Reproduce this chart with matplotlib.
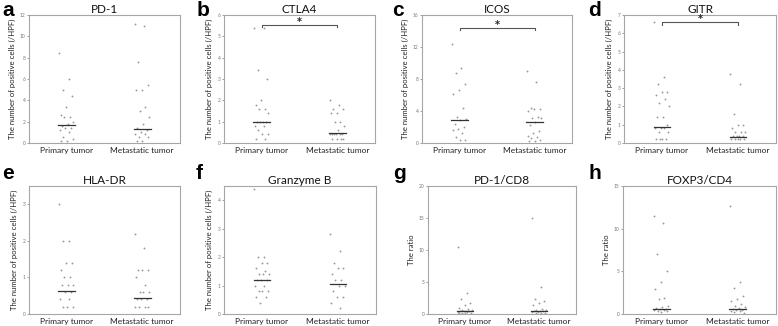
import numpy as np
import matplotlib
matplotlib.use('Agg')
import matplotlib.pyplot as plt

plt.rcParams['font.family'] = ['Lato', 'DejaVu Sans']

GROUPS = ['Primary tumor', 'Metastatic tumor']
TITLES = ['PD-1', 'CTLA4', 'ICOS', 'GITR', 'HLA-DR', 'Granzyme B', 'PD-1/CD8', 'FOXP3/CD4']
LETTERS = ['a', 'b', 'c', 'd', 'e', 'f', 'g', 'h']
YLABEL_CELLS = 'The number of positive cells (/HPF)'
YLABEL_RATIO = 'The ratio'

pd1_prim = [8.4, 6.0, 5.0, 4.4, 3.4, 2.6, 2.4, 2.4, 2.0, 1.8, 1.6, 1.4, 1.4, 1.2, 1.0, 0.6, 0.4, 0.2, 0.2]
pd1_met = [11.2, 11.0, 7.6, 5.4, 5.0, 5.0, 3.4, 3.0, 2.4, 1.8, 1.4, 1.2, 1.0, 0.8, 0.8, 0.6, 0.6, 0.2, 0.2]
ctla4_prim = [5.4, 5.4, 3.4, 3.0, 2.0, 1.8, 1.6, 1.6, 1.4, 1.0, 1.0, 1.0, 1.0, 0.8, 0.8, 0.6, 0.4, 0.4, 0.2, 0.2]
ctla4_met = [2.0, 1.8, 1.6, 1.6, 1.4, 1.4, 1.0, 1.0, 0.8, 0.6, 0.4, 0.4, 0.4, 0.4, 0.4, 0.4, 0.2, 0.2, 0.2, 0.2]
icos_prim = [12.4, 9.4, 8.8, 7.4, 6.6, 6.1, 4.4, 3.2, 3.0, 2.9, 2.4, 2.0, 1.8, 1.6, 1.2, 0.8, 0.4, 0.4]
icos_met = [9.0, 7.6, 4.4, 4.2, 4.2, 4.0, 3.3, 3.1, 3.1, 2.6, 2.2, 1.5, 1.2, 0.9, 0.8, 0.6, 0.4, 0.2, 0.2]
gitr_prim = [6.6, 3.6, 3.2, 2.8, 2.8, 2.6, 2.4, 2.2, 2.0, 1.4, 1.4, 1.0, 0.8, 0.8, 0.8, 0.6, 0.6, 0.2, 0.2, 0.2, 0.2]
gitr_met = [3.8, 3.2, 1.6, 1.0, 1.0, 0.8, 0.6, 0.6, 0.6, 0.4, 0.4, 0.4, 0.4, 0.2, 0.2, 0.2, 0.2, 0.2]
hla_prim = [3.0, 2.0, 2.0, 1.4, 1.4, 1.2, 1.0, 1.0, 0.8, 0.8, 0.8, 0.6, 0.6, 0.4, 0.4, 0.2, 0.2, 0.2]
hla_met = [2.2, 1.8, 1.2, 1.2, 1.2, 1.0, 0.8, 0.6, 0.6, 0.6, 0.4, 0.4, 0.4, 0.2, 0.2, 0.2, 0.2]
gzmb_prim = [4.4, 2.0, 2.0, 1.8, 1.8, 1.6, 1.5, 1.4, 1.4, 1.4, 1.2, 1.2, 1.2, 1.0, 1.0, 0.8, 0.8, 0.8, 0.6, 0.6, 0.4]
gzmb_met = [2.8, 2.2, 1.8, 1.6, 1.6, 1.4, 1.2, 1.2, 1.0, 1.0, 0.8, 0.6, 0.6, 0.4, 0.2]
pd1cd8_prim = [10.5, 3.3, 2.4, 1.7, 1.4, 1.0, 0.8, 0.6, 0.6, 0.5, 0.5, 0.4, 0.4, 0.3, 0.3, 0.2, 0.2, 0.1, 0.1]
pd1cd8_met = [15.0, 4.2, 2.3, 2.0, 1.7, 1.4, 0.8, 0.7, 0.6, 0.5, 0.5, 0.4, 0.3, 0.3, 0.2, 0.2, 0.1]
foxp3_prim = [11.5, 10.7, 7.0, 5.0, 3.7, 2.9, 1.9, 1.8, 0.9, 0.8, 0.7, 0.6, 0.6, 0.5, 0.5, 0.4, 0.3, 0.2]
foxp3_met = [12.6, 3.7, 3.1, 2.1, 1.8, 1.5, 1.2, 0.9, 0.8, 0.7, 0.6, 0.5, 0.5, 0.4, 0.3, 0.2, 0.1]

# medians as drawn in the figure
MEDIANS = [(1.7, 1.35), (1.0, 0.45), (2.9, 2.6), (0.9, 0.33),
           (0.64, 0.44), (1.21, 1.05), (0.45, 0.45), (0.55, 0.58)]
YMAX = [12, 6, 16, 7, 3.5, 4.5, 20, 15]
YTICKS = [[0, 2, 4, 6, 8, 10, 12], [0, 1, 2, 3, 4, 5, 6], [0, 4, 8, 12, 16], [0, 1, 2, 3, 4, 5, 6, 7],
          [0, 1, 2, 3], [0, 1, 2, 3, 4], [0, 5, 10, 15, 20], [0, 5, 10, 15]]
# significance bracket height (None = no bracket)
BRACKETS = [None, 5.55, 14.4, 6.62, None, None, None, None]

DATA = [(pd1_prim, pd1_met), (ctla4_prim, ctla4_met), (icos_prim, icos_met), (gitr_prim, gitr_met),
        (hla_prim, hla_met), (gzmb_prim, gzmb_met), (pd1cd8_prim, pd1cd8_met), (foxp3_prim, foxp3_met)]

# axes boxes in pixels: left, right, top, bottom
W, H = 778, 326
BOXES = [(29, 180, 15, 143), (224, 375, 15, 143), (422, 572, 15, 143), (624, 776, 15, 143),
         (29, 180, 186, 314), (224, 376, 186, 314), (428, 576, 186, 314), (623, 776, 186, 314)]
# panel letter positions in pixels (left, top)
LETTER_POS = [(2, 1), (197, 1), (392, 1), (588, 1), (2, 164), (196, 164), (393, 164), (589, 164)]

FRAME = '#a6a6a6'
DOT = '#9a9a9a'


def jitter(n, width=0.2):
    # deterministic spread (golden ratio sequence)
    k = np.arange(n)
    return ((k * 0.618034) % 1.0 - 0.5) * width


fig = plt.figure(figsize=(W / 100, H / 100), dpi=100)

for i in range(8):
    l, r, t, b = BOXES[i]
    ax = fig.add_axes([l / W, 1 - b / H, (r - l) / W, (b - t) / H])
    prim, met = DATA[i]
    for j, vals in enumerate([prim, met]):
        x = (j + 1) + jitter(len(vals))
        ax.scatter(x, vals, s=1.8, color=DOT, linewidths=0, zorder=2)
        ax.plot([j + 1 - 0.11, j + 1 + 0.11], [MEDIANS[i][j]] * 2, color='#333333', lw=0.9, zorder=3)

    if BRACKETS[i] is not None:
        yb = BRACKETS[i]
        d = YMAX[i] * 0.02
        ax.plot([1, 1, 2, 2], [yb - d, yb, yb, yb - d], color='#555555', lw=0.8)
        ax.text(1.5, yb + YMAX[i] * 0.02, '*', ha='center', va='center', fontsize=7,
                fontweight='bold', color='#222222', family='DejaVu Sans')

    ax.set_xlim(0.5, 2.5)
    ax.set_ylim(0, YMAX[i])
    ax.set_yticks(YTICKS[i])
    ax.set_yticklabels([str(v) for v in YTICKS[i]])
    ax.set_xticks([1, 2])
    ax.set_xticklabels(GROUPS, fontsize=6)
    ax.tick_params(axis='y', labelsize=3.5, length=1.5, width=0.5, colors='#777777', pad=1)
    ax.tick_params(axis='x', length=0, pad=3, labelcolor='#222222')
    for sp in ax.spines.values():
        sp.set_color(FRAME)
        sp.set_linewidth(0.8)
    ax.set_title(TITLES[i], fontsize=8.5, pad=1.5, color='#111111')
    ylab = YLABEL_RATIO if i >= 6 else YLABEL_CELLS
    ax.set_ylabel(ylab, fontsize=5.6, labelpad=3, color='#222222')
    lx, ly = LETTER_POS[i]
    fig.text(lx / W, 1 - ly / H, LETTERS[i], fontsize=15, fontweight='bold',
             family='Liberation Sans', va='top', ha='left')

fig.savefig('out.png', dpi=100)
